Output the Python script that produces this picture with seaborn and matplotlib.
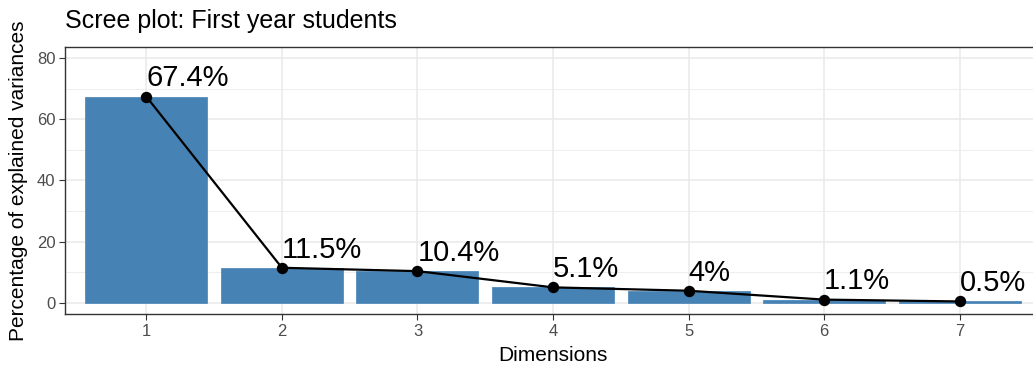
import matplotlib
matplotlib.use("Agg")
import matplotlib.pyplot as plt
import seaborn as sns
import pandas as pd
from matplotlib.ticker import MultipleLocator

dimensions = ["1", "2", "3", "4", "5", "6", "7"]
explained = [67.4, 11.5, 10.4, 5.1, 4.0, 1.1, 0.5]
value_labels = ["67.4%", "11.5%", "10.4%", "5.1%", "4%", "1.1%", "0.5%"]

df = pd.DataFrame({"dim": dimensions, "pct": explained})

sns.set_theme(style="white")
plt.rcParams["font.family"] = ["Liberation Sans", "DejaVu Sans"]

W, H = 1033, 374
fig = plt.figure(figsize=(W / 100, H / 100), dpi=100)
ax = fig.add_axes([65 / W, (H - 314) / H, (1041 - 65) / W, (314 - 47) / H])

grid_col = "#EBEBEB"
ax.set_axisbelow(True)

sns.barplot(data=df, x="dim", y="pct", color="#4682B4", saturation=1,
            width=0.9, edgecolor="#4682B4", linewidth=0.5, ax=ax, zorder=2)
sns.pointplot(data=df, x="dim", y="pct", color="black", markers="o",
              markersize=7, linewidth=1.6, ax=ax, zorder=4)

for i, (v, lab) in enumerate(zip(explained, value_labels)):
    ax.annotate(lab, (i, v), xytext=(0, 3), textcoords="offset points",
                ha="left", va="bottom", fontsize=21, color="black", zorder=5)

ax.set_xlim(-0.6, 6.6)
ax.set_ylim(-3.6, 83.6)
ax.yaxis.set_major_locator(MultipleLocator(20))
ax.yaxis.set_minor_locator(MultipleLocator(10))

ax.grid(True, which="major", color=grid_col, linewidth=1.2, zorder=0)
ax.grid(True, which="minor", axis="y", color=grid_col, linewidth=0.6, zorder=0)

for s in ax.spines.values():
    s.set_color("#333333")
    s.set_linewidth(1.0)

ax.tick_params(axis="both", which="major", length=4, width=0.8, color="#333333",
               labelsize=12, labelcolor="#4D4D4D", pad=3, left=True, bottom=True)
ax.tick_params(axis="both", which="minor", length=0)

ax.set_xlabel("Dimensions", fontsize=15, color="black", labelpad=5)
ax.set_ylabel("Percentage of explained variances", fontsize=15, color="black", labelpad=6)

fig.text(65 / W, 1 - 21 / H, "Scree plot: First year students", fontsize=18,
         ha="left", va="center", color="black")

fig.savefig("out.png", dpi=100)
